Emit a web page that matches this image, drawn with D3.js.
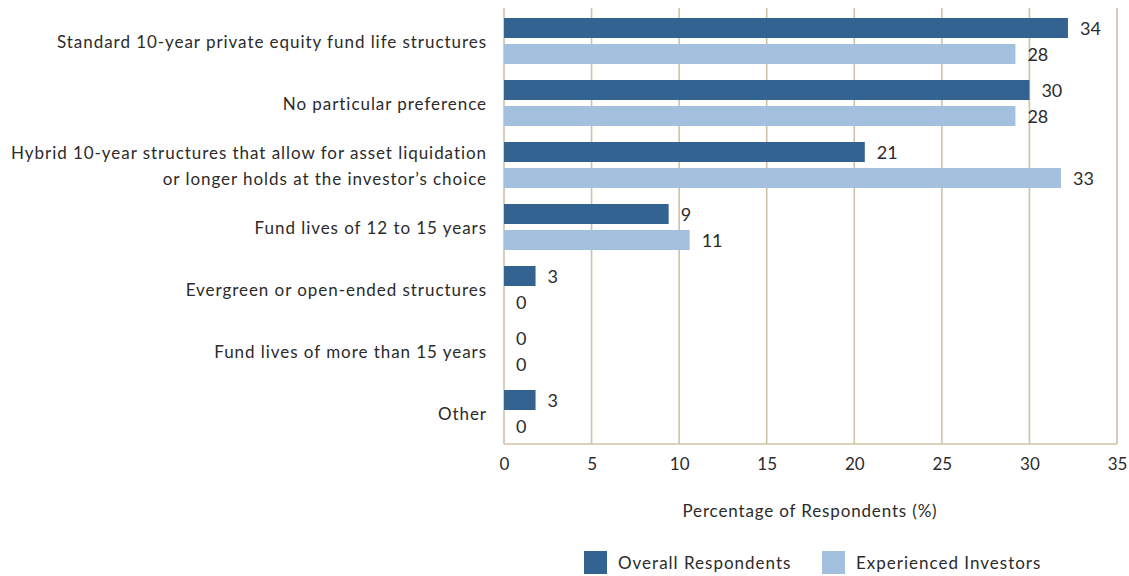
<!DOCTYPE html>
<html><head><meta charset="utf-8">
<script src="https://cdn.jsdelivr.net/npm/d3@7"></script>
<style>body{margin:0;background:#fff}svg{display:block}text{font-family:Lato,"Open Sans",sans-serif;fill:#2b2b2b}</style>
</head><body><svg id="c" width="1129" height="576"></svg>
<script>
const categories = [
  ["Standard 10-year private equity fund life structures"],
  ["No particular preference"],
  ["Hybrid 10-year structures that allow for asset liquidation","or longer holds at the investor\u2019s choice"],
  ["Fund lives of 12 to 15 years"],
  ["Evergreen or open-ended structures"],
  ["Fund lives of more than 15 years"],
  ["Other"]
];
const seriesNames = ["Overall Respondents", "Experienced Investors"];
// bar lengths as drawn in the picture
const overallBars = [32.2, 30.0, 20.6, 9.4, 1.8, 0, 1.8];
const experiencedBars = [29.2, 29.2, 31.8, 10.6, 0, 0, 0];
// printed value labels
const overallLabels = [34, 30, 21, 9, 3, 0, 3];
const experiencedLabels = [28, 28, 33, 11, 0, 0, 0];
const xTicks = [0, 5, 10, 15, 20, 25, 30, 35];
const colors = ["#336391", "#a3c0df"];

const svg = d3.select("#c");
const x = d3.scaleLinear().domain([0, 35]).range([504, 1117]);
const y = d3.scaleBand().domain(d3.range(categories.length)).range([10, 444]);
const ys = d3.scaleBand().domain(seriesNames).range([8, 54]).paddingInner(6/26);
const grid = "#cfc2a6";

// grid
svg.append("g").selectAll("line").data(xTicks).join("line")
  .attr("x1", d => x(d)).attr("x2", d => x(d)).attr("y1", 8).attr("y2", 444)
  .attr("stroke", grid).attr("stroke-width", 1.6);
svg.append("line").attr("x1", x(0)).attr("x2", x(35)).attr("y1", 444).attr("y2", 444)
  .attr("stroke", grid).attr("stroke-width", 1.6);

// x axis labels via d3 axis
const ax = svg.append("g").attr("transform", "translate(0,444)")
  .call(d3.axisBottom(x).tickValues(xTicks).tickSize(0).tickPadding(14));
ax.select(".domain").remove();
ax.selectAll("text").attr("font-size", 17).attr("font-family", "Lato").attr("fill", "#2b2b2b");

const series = [
  {name: seriesNames[0], bars: overallBars, labels: overallLabels, color: colors[0]},
  {name: seriesNames[1], bars: experiencedBars, labels: experiencedLabels, color: colors[1]}
];
series.forEach(s => {
  const g = svg.append("g");
  g.selectAll("rect").data(s.bars).join("rect")
    .attr("x", x(0)).attr("y", (d, i) => y(i) + ys(s.name))
    .attr("width", d => x(d) - x(0)).attr("height", ys.bandwidth())
    .attr("fill", s.color);
  g.selectAll("text").data(s.bars).join("text")
    .attr("x", d => x(d) + 12).attr("y", (d, i) => y(i) + ys(s.name) + ys.bandwidth() / 2 + 1)
    .attr("dy", "0.35em").attr("font-size", 18)
    .text((d, i) => s.labels[i]);
});

// category labels
categories.forEach((lines, i) => {
  const cy = y(i) + 8 + 23 + 1;
  const t = svg.append("text").attr("text-anchor", "end").attr("font-size", 17).attr("letter-spacing", 0.95);
  lines.forEach((ln, k) => {
    t.append("tspan").attr("x", 487)
      .attr("y", cy + (k - (lines.length - 1) / 2) * 26).attr("dy", "0.35em").text(ln);
  });
});

// axis title
svg.append("text").attr("x", 810).attr("y", 511).attr("dy", "0.35em")
  .attr("text-anchor", "middle").attr("font-size", 17).attr("letter-spacing", 0.85)
  .text("Percentage of Respondents (%)");

// legend
const legX = [584, 822];
series.forEach((s, i) => {
  svg.append("rect").attr("x", legX[i]).attr("y", 551).attr("width", 23).attr("height", 23).attr("fill", s.color);
  svg.append("text").attr("x", legX[i] + 34).attr("y", 563).attr("dy", "0.35em")
    .attr("font-size", 17).attr("letter-spacing", 1).text(s.name);
});
</script></body></html>
